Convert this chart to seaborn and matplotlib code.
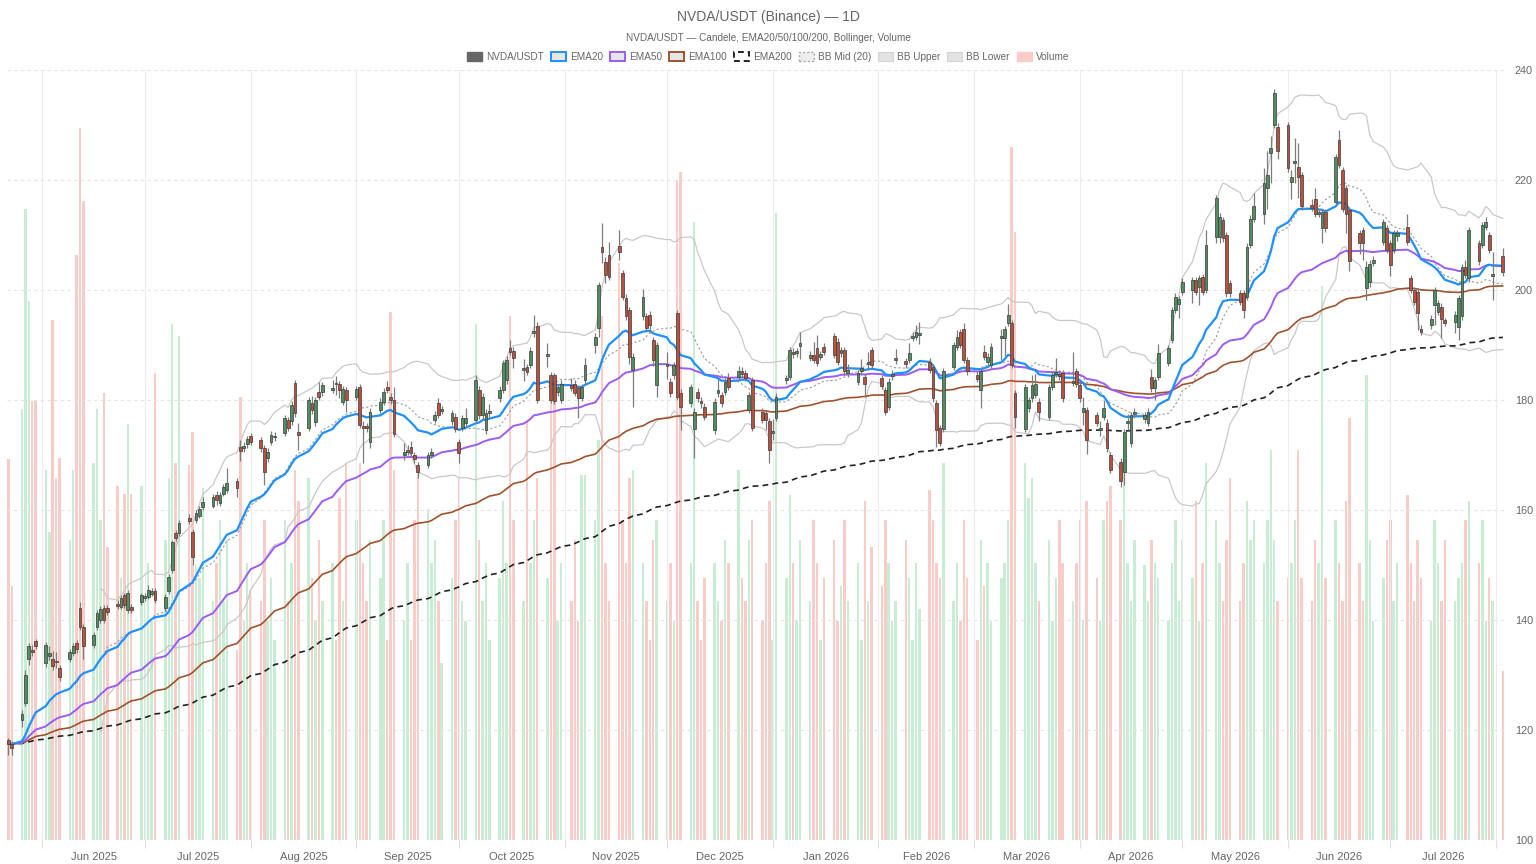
import numpy as np
import pandas as pd
import seaborn as sns
import matplotlib
matplotlib.use("Agg")
import matplotlib.pyplot as plt
import matplotlib.dates as mdates
from matplotlib.patches import Patch
from matplotlib.ticker import FixedLocator, FixedFormatter, NullFormatter

# daily bars, weekdays only (Thu 22 May 2025 .. Mon 3 Aug 2026)
first_day = "2025-05-22"
last_day = "2026-08-03"

# one line per week
opens = [
    118.1, 117.4,
    121.8, 124.9, 133.0, 134.5, 136.1,
    132.2, 133.4, 132.9, 132.6, 131.3,
    133.0, 134.0, 135.9, 142.2, 138.7,
    135.5, 138.7, 140.0, 142.2, 142.2,
    143.0, 142.4, 144.5, 141.8, 142.3,
    143.3, 144.0, 144.2, 144.8, 145.3,
    142.2, 145.3, 149.1, 155.9, 155.8,
    158.6, 156.0, 158.2, 159.0, 160.5,
    160.8, 162.8, 161.2, 163.0, 163.6,
    165.2, 171.5, 171.2, 172.0, 173.5,
    172.7, 171.3, 169.4, 172.4, 173.2,
    174.0, 176.4, 176.1, 183.1, 174.2,
    174.9, 179.5, 176.0, 181.5, 181.5,
    181.8, 183.1, 182.9, 179.7, 181.8,
    180.6, 182.4, 175.3, 175.2, 172.4,
    178.2, 179.7, 182.3, 180.6, 180.0,
    170.0, 170.6, 171.5, 170.0, 168.2,
    168.2, 170.0, 176.4, 179.5, 178.0,
    176.1, 177.0, 172.4, 174.9, 175.8,
    176.4, 181.8, 177.3, 174.5, 177.7,
    180.3, 181.8, 183.6, 189.4, 189.0,
    185.5, 186.0, 186.4, 192.1, 193.5,
    188.0, 184.5, 184.5, 181.5, 180.0,
    182.7, 183.0, 182.2, 180.4, 183.6,
    190.0, 193.1, 207.9, 205.1, 206.4,
    208.0, 203.1, 198.5, 196.4, 185.5,
    195.2, 195.2, 195.5, 190.9, 182.7,
    186.2, 183.3, 184.5, 195.8, 181.3,
    179.4, 174.8, 181.5, 179.8, 178.8,
    174.5, 181.2, 180.9, 181.5, 184.0,
    184.2, 185.3, 184.9, 178.2, 183.6,
    177.9, 177.6, 176.1, 174.0, 176.7,
    183.6, 184.2, 188.8, 188.5, 189.8,
    187.7, 188.2, 189.4, 187.8, 189.7,
    191.6, 190.6, 188.5, 189.1, 185.0,
    183.3, 185.2, 184.2, 186.6, 189.1,
    184.0, 181.8, 178.8, 184.3, 187.2,
    187.1, 187.3, 191.3, 191.5, 191.8,
    187.0, 186.0, 179.4, 174.9, 174.8,
    186.0, 189.7, 192.4, 193.0, 187.3,
    184.6, 181.8, 188.8, 187.0, 186.4,
    191.3, 191.2, 194.0, 194.0, 181.2,
    174.8, 178.5, 180.3, 180.9, 179.7,
    177.0, 182.4, 184.7, 184.8, 184.9,
    183.1, 185.2, 182.7, 177.9, 178.2,
    177.3, 174.6, 177.0, 175.9, 170.0,
    168.8, 167.0, 175.8, 172.1, 177.5,
    176.6, 175.8, 184.2, 182.1, 184.2,
    186.7, 190.9, 196.4, 197.5, 199.7,
    200.0, 201.8, 200.5, 202.4, 200.0,
    209.7, 209.7, 212.7, 210.0, 201.2,
    199.4, 199.4, 198.8, 208.2, 213.0,
    213.9, 218.5, 224.9, 230.0, 229.7,
    230.0, 219.7, 223.1, 222.3, 220.9,
    215.5, 216.5, 213.8, 211.2, 214.2,
    216.0, 227.3, 221.8, 218.5, 214.5,
    210.3, 210.9, 200.3, 201.5, 205.0,
    208.8, 211.2, 208.5, 207.3, 209.8,
    211.5, 202.1, 200.0, 199.7, 193.0,
    193.6, 197.3, 196.0, 197.0, 194.5,
    194.2, 193.3, 195.2, 204.2, 202.1,
    208.5, 208.2, 211.5, 210.0, 202.5,
    206.1,
]

highs = [
    118.6, 118.0,
    123.6, 131.0, 135.8, 135.5, 136.6,
    136.0, 135.2, 134.3, 134.1, 131.8,
    134.8, 135.9, 136.4, 143.3, 139.2,
    137.8, 141.8, 142.5, 142.8, 142.7,
    143.6, 144.5, 145.0, 145.4, 142.9,
    145.0, 145.0, 146.3, 145.8, 145.8,
    144.7, 148.3, 154.6, 156.4, 158.2,
    159.3, 156.5, 160.0, 160.8, 162.3,
    163.0, 163.5, 163.3, 164.8, 167.6,
    165.8, 172.8, 172.4, 173.5, 174.0,
    173.3, 171.8, 171.2, 174.4, 174.2,
    177.3, 177.0, 179.8, 183.7, 175.8,
    180.6, 180.8, 180.6, 183.2, 183.3,
    183.6, 184.4, 183.4, 182.6, 182.3,
    182.6, 182.9, 176.2, 175.8, 178.6,
    180.3, 182.1, 183.5, 181.2, 182.4,
    172.2, 171.8, 172.5, 170.6, 168.7,
    170.6, 171.3, 178.0, 180.4, 179.0,
    178.2, 177.6, 173.0, 177.3, 178.5,
    184.5, 182.5, 181.2, 178.3, 179.2,
    182.5, 187.3, 188.0, 190.9, 189.6,
    187.5, 186.6, 189.6, 195.5, 194.2,
    190.4, 185.1, 185.0, 183.0, 183.6,
    184.0, 183.6, 182.8, 183.0, 187.6,
    192.2, 201.5, 212.2, 206.0, 208.8,
    211.0, 203.7, 199.2, 197.0, 188.5,
    200.2, 195.8, 196.2, 191.5, 190.6,
    188.7, 184.0, 187.0, 196.4, 182.0,
    183.0, 178.6, 182.2, 180.5, 179.4,
    180.3, 183.8, 181.5, 184.0, 185.0,
    186.2, 186.0, 185.5, 181.5, 184.2,
    178.5, 178.2, 176.7, 176.5, 181.2,
    184.6, 189.7, 189.4, 189.5, 192.4,
    189.0, 190.5, 191.9, 189.0, 190.3,
    192.2, 191.2, 189.7, 189.7, 186.5,
    185.5, 187.4, 184.8, 188.8, 189.7,
    184.5, 182.4, 184.0, 185.5, 189.2,
    187.7, 190.4, 192.4, 193.6, 194.2,
    187.6, 186.6, 180.0, 175.5, 185.8,
    190.6, 192.8, 193.0, 194.0, 187.9,
    185.2, 185.8, 190.0, 188.5, 190.3,
    193.0, 193.5, 197.5, 194.6, 181.8,
    183.0, 180.6, 184.5, 184.8, 180.3,
    183.0, 185.2, 187.6, 185.4, 185.5,
    188.8, 185.8, 183.3, 180.5, 178.8,
    177.9, 176.2, 180.0, 176.5, 170.6,
    169.4, 174.8, 177.5, 177.9, 178.5,
    177.9, 178.5, 185.6, 184.2, 190.2,
    190.0, 197.0, 199.5, 199.0, 202.1,
    202.4, 202.4, 202.8, 203.0, 210.9,
    217.3, 214.0, 213.3, 210.6, 201.8,
    200.0, 200.0, 208.5, 213.6, 217.6,
    222.2, 225.2, 228.0, 236.6, 230.3,
    230.6, 221.8, 227.6, 226.7, 221.5,
    216.5, 218.5, 214.8, 214.8, 214.8,
    224.8, 229.1, 222.4, 219.1, 215.1,
    211.0, 211.5, 205.2, 205.4, 206.1,
    213.0, 211.8, 209.1, 210.9, 211.0,
    213.9, 202.7, 200.6, 200.3, 193.6,
    195.4, 200.6, 198.2, 197.6, 195.0,
    196.1, 199.1, 204.8, 205.5, 211.5,
    209.1, 212.4, 213.3, 210.6, 207.0,
    207.6,
]

lows = [
    115.5, 115.4,
    120.5, 124.4, 131.8, 133.4, 134.8,
    131.5, 132.8, 131.0, 131.2, 129.0,
    132.4, 133.5, 134.0, 138.2, 133.0,
    135.0, 138.2, 139.5, 139.5, 141.0,
    142.0, 142.0, 142.2, 141.3, 141.2,
    142.8, 143.5, 143.8, 144.3, 143.1,
    141.7, 144.8, 148.6, 154.4, 155.3,
    157.5, 150.0, 157.7, 158.5, 160.0,
    160.3, 161.0, 160.7, 162.5, 163.1,
    162.3, 169.0, 170.5, 171.3, 171.8,
    170.6, 164.5, 168.8, 171.8, 172.5,
    173.4, 174.3, 175.5, 177.0, 171.0,
    174.3, 177.5, 175.2, 180.0, 180.8,
    181.2, 181.0, 180.4, 179.1, 177.9,
    180.0, 175.0, 168.5, 174.2, 171.3,
    177.6, 179.1, 181.2, 179.3, 173.3,
    169.1, 170.0, 169.8, 168.6, 165.8,
    167.6, 169.5, 175.8, 176.8, 177.4,
    175.5, 174.2, 168.5, 174.3, 175.2,
    175.8, 176.6, 176.5, 173.9, 177.0,
    179.7, 181.2, 183.0, 188.1, 185.8,
    183.5, 184.5, 185.8, 191.5, 179.4,
    186.0, 179.4, 179.2, 180.8, 179.4,
    181.6, 180.7, 176.7, 179.8, 183.0,
    188.5, 191.5, 204.9, 201.3, 201.8,
    205.5, 198.2, 194.5, 186.5, 178.8,
    194.6, 192.5, 192.2, 186.2, 180.6,
    183.8, 180.6, 183.9, 180.0, 174.5,
    178.8, 169.5, 179.7, 178.6, 176.4,
    173.9, 180.6, 178.8, 180.9, 181.8,
    183.6, 184.2, 183.4, 177.6, 174.3,
    175.8, 174.5, 168.5, 172.8, 176.1,
    183.0, 183.6, 187.7, 187.9, 187.5,
    187.1, 186.7, 186.1, 187.2, 188.2,
    187.6, 186.4, 187.9, 184.6, 184.1,
    182.7, 184.6, 180.5, 185.5, 185.8,
    182.0, 177.3, 178.2, 183.7, 186.6,
    185.9, 186.7, 190.7, 190.9, 190.2,
    184.9, 179.7, 171.5, 171.6, 174.2,
    185.4, 189.1, 189.4, 186.7, 184.6,
    183.2, 178.5, 187.3, 186.4, 185.8,
    187.3, 188.0, 193.4, 185.8, 174.9,
    174.2, 177.9, 179.7, 180.3, 176.1,
    176.4, 181.8, 184.1, 183.7, 179.7,
    182.5, 182.4, 179.7, 175.5, 170.2,
    175.2, 173.5, 176.4, 170.6, 166.7,
    164.2, 164.5, 174.5, 171.5, 176.8,
    175.8, 175.2, 181.5, 180.0, 183.6,
    186.1, 190.3, 195.8, 195.0, 199.1,
    197.7, 199.1, 197.3, 199.1, 199.4,
    208.5, 208.5, 208.8, 198.8, 198.8,
    197.3, 194.9, 198.2, 207.6, 212.4,
    212.0, 214.8, 219.5, 229.4, 223.8,
    221.5, 216.5, 219.4, 216.7, 214.6,
    214.3, 213.3, 213.2, 208.5, 210.6,
    215.4, 222.1, 214.2, 210.4, 203.5,
    206.5, 205.5, 198.2, 200.5, 204.4,
    208.2, 206.7, 202.5, 206.7, 209.0,
    208.2, 199.4, 197.3, 192.8, 191.8,
    193.0, 193.6, 195.4, 191.2, 193.4,
    192.2, 190.9, 194.6, 202.1, 201.5,
    204.6, 207.6, 210.9, 206.7, 198.2,
    202.5,
]

closes = [
    117.5, 116.8,
    122.9, 130.0, 135.2, 134.2, 135.2,
    135.5, 134.0, 131.6, 132.3, 129.6,
    134.2, 135.3, 134.7, 138.8, 135.2,
    137.3, 141.3, 142.0, 140.0, 141.5,
    142.5, 144.0, 142.7, 144.9, 141.8,
    144.5, 144.3, 145.5, 145.2, 143.6,
    144.2, 147.8, 154.1, 154.9, 157.6,
    158.0, 151.5, 159.4, 160.2, 161.5,
    162.3, 161.8, 162.7, 164.2, 164.9,
    164.0, 170.8, 171.7, 172.9, 172.4,
    171.2, 167.0, 170.6, 173.6, 173.5,
    176.7, 175.0, 179.1, 177.7, 173.7,
    180.0, 178.2, 180.0, 180.6, 182.7,
    182.1, 182.9, 181.8, 182.0, 180.0,
    182.0, 175.5, 174.9, 174.9, 177.9,
    179.7, 181.5, 181.8, 180.0, 173.9,
    170.6, 170.9, 170.3, 169.2, 167.0,
    170.0, 170.6, 177.3, 177.3, 178.3,
    177.6, 174.8, 170.3, 176.7, 176.7,
    183.6, 177.3, 180.5, 177.6, 178.0,
    181.8, 186.7, 187.3, 188.7, 187.6,
    185.8, 185.1, 189.0, 192.6, 180.0,
    188.4, 180.0, 179.8, 182.3, 183.0,
    182.2, 181.3, 180.4, 182.4, 186.4,
    191.5, 200.9, 207.0, 202.7, 202.4,
    207.0, 198.8, 195.2, 187.9, 187.9,
    198.8, 193.1, 193.6, 187.3, 190.0,
    186.6, 181.2, 186.4, 180.6, 178.8,
    182.4, 177.9, 180.3, 179.4, 177.0,
    179.7, 181.8, 179.4, 183.3, 182.4,
    185.2, 184.8, 184.0, 180.9, 174.9,
    176.4, 176.4, 170.9, 174.4, 180.6,
    184.0, 189.1, 188.3, 188.9, 190.4,
    188.2, 187.3, 186.7, 188.3, 188.8,
    188.2, 187.0, 189.1, 185.2, 185.4,
    184.9, 185.8, 183.0, 187.0, 186.4,
    182.6, 177.9, 183.3, 184.7, 187.6,
    186.5, 188.5, 191.7, 192.4, 192.1,
    185.5, 180.3, 174.5, 172.2, 185.2,
    190.0, 191.5, 190.0, 187.3, 185.2,
    183.8, 185.2, 187.9, 187.9, 189.7,
    191.7, 192.9, 195.5, 186.4, 177.0,
    182.4, 180.0, 182.7, 183.0, 177.9,
    182.4, 184.5, 185.1, 184.3, 180.3,
    183.5, 183.0, 180.3, 178.5, 172.7,
    175.8, 175.0, 178.5, 171.2, 167.3,
    165.2, 174.2, 176.1, 177.3, 177.8,
    177.2, 177.9, 182.1, 183.6, 188.5,
    189.4, 196.4, 198.8, 198.4, 201.5,
    201.8, 199.7, 202.2, 199.7, 208.2,
    216.7, 213.3, 209.4, 199.4, 199.4,
    197.9, 196.4, 207.9, 213.0, 215.2,
    219.4, 220.9, 225.8, 235.9, 225.2,
    222.1, 220.6, 223.5, 220.6, 215.2,
    215.0, 213.9, 214.1, 214.2, 211.2,
    224.2, 222.7, 214.8, 213.9, 205.2,
    208.5, 208.5, 204.2, 204.8, 205.4,
    212.4, 207.3, 204.5, 210.3, 210.3,
    208.8, 200.0, 197.9, 195.8, 192.4,
    194.8, 200.0, 197.6, 194.8, 194.0,
    195.5, 198.5, 204.2, 202.7, 210.9,
    205.2, 211.8, 212.4, 207.3, 202.9,
    203.3,
]

# volume, millions
volumes = [
    49.5, 33.0,
    56.0, 82.0, 70.0, 57.0, 57.0,
    48.0, 40.0, 67.5, 47.0, 49.6,
    39.0, 48.0, 76.0, 92.5, 83.0,
    49.0, 56.0, 41.5, 58.0, 38.0,
    46.0, 34.0, 45.0, 54.0, 45.0,
    46.0, 31.0, 36.0, 28.5, 60.6,
    39.0, 47.0, 67.0, 49.0, 65.5,
    48.7, 53.0, 35.7, 34.0, 45.7,
    31.0, 36.0, 41.5, 31.0, 39.0,
    24.7, 57.5, 28.5, 36.0, 32.5,
    31.0, 41.5, 28.5, 34.0, 26.0,
    41.5, 31.0, 36.0, 48.0, 44.0,
    47.0, 34.0, 28.5, 39.0, 31.0,
    36.0, 26.0, 44.4, 31.0, 49.0,
    41.5, 49.0, 36.0, 31.0, 39.0,
    34.0, 41.5, 26.0, 68.6, 48.0,
    28.5, 36.0, 26.0, 41.5, 48.0,
    43.0, 36.0, 39.0, 31.0, 23.0,
    34.0, 41.5, 47.0, 31.0, 28.5,
    67.0, 39.0, 31.0, 36.0, 26.0,
    34.0, 44.0, 36.0, 68.0, 41.5,
    31.0, 54.5, 36.0, 41.5, 47.0,
    34.0, 59.4, 59.4, 28.5, 36.0,
    31.0, 39.0, 28.5, 47.4, 47.4,
    41.5, 52.0, 68.0, 36.0, 31.0,
    75.0, 41.5, 36.0, 47.0, 48.0,
    36.0, 31.0, 26.0, 39.0, 41.5,
    31.0, 36.0, 28.5, 85.7, 86.8,
    36.0, 80.3, 31.0, 26.0, 34.0,
    36.0, 31.0, 28.5, 39.0, 36.0,
    48.0, 34.0, 31.0, 39.0, 41.5,
    28.5, 36.0, 44.0, 26.0, 81.4,
    34.0, 44.8, 36.0, 28.5, 39.0,
    31.0, 41.5, 36.0, 26.0, 34.0,
    39.0, 28.5, 33.0, 41.5, 31.0,
    36.0, 26.0, 44.0, 31.0, 38.0,
    33.0, 41.5, 36.0, 28.5, 31.0,
    39.0, 34.0, 26.0, 36.0, 30.0,
    45.5, 41.5, 36.0, 34.0, 49.0,
    31.0, 36.0, 28.5, 41.5, 34.0,
    26.0, 39.0, 33.0, 36.0, 28.5,
    34.0, 36.0, 41.5, 90.0, 79.0,
    49.0, 44.4, 47.0, 36.0, 31.0,
    39.0, 28.5, 34.0, 41.5, 36.0,
    31.0, 36.0, 41.5, 28.5, 44.0,
    34.0, 28.5, 41.5, 44.0, 46.0,
    41.5, 53.0, 36.0, 31.0, 39.0,
    35.7, 31.0, 39.0, 36.0, 34.0,
    28.5, 36.0, 41.5, 31.0, 39.0,
    34.0, 44.0, 28.5, 36.0, 49.0,
    41.5, 36.0, 31.0, 39.0, 47.0,
    31.0, 36.0, 44.0, 39.0, 41.5,
    36.0, 41.5, 50.6, 39.0, 31.0,
    34.0, 36.0, 41.5, 50.6, 34.0,
    31.0, 39.0, 36.0, 72.0, 34.0,
    41.5, 36.0, 31.0, 44.0, 54.8,
    36.0, 31.0, 60.4, 39.0, 28.5,
    34.0, 39.0, 41.5, 31.0, 36.0,
    44.8, 36.0, 31.0, 39.0, 34.0,
    28.5, 41.5, 36.0, 31.0, 39.0,
    31.0, 34.0, 36.0, 41.5, 44.0,
    36.0, 41.5, 28.5, 34.0, 31.0,
    22.0,
]

month_labels = ["Jun 2025", "Jul 2025", "Aug 2025", "Sep 2025", "Oct 2025",
                "Nov 2025", "Dec 2025", "Jan 2026", "Feb 2026", "Mar 2026",
                "Apr 2026", "May 2026", "Jun 2026", "Jul 2026"]
price_ticks = [100, 120, 140, 160, 180, 200, 220, 240]

dates = pd.bdate_range(first_day, last_day)
df = pd.DataFrame({"date": dates, "open": opens, "high": highs, "low": lows,
                   "close": closes, "volume": volumes})
df["x"] = mdates.date2num(df["date"])
for n in (20, 50, 100, 200):
    df[f"ema{n}"] = df["close"].ewm(span=n, adjust=False).mean()
mid = df["close"].rolling(20).mean()
sd = df["close"].rolling(20).std(ddof=0)
df["bb_mid"] = mid
df["bb_up"] = mid + 2 * sd
df["bb_lo"] = mid - 2 * sd
up = (df["close"] >= df["open"]).to_numpy()

C_UP, C_DN = "#4f8f5f", "#bd503c"
C_VUP, C_VDN = "#c9ecd4", "#f9ccc7"
C_EMA = {20: "#1e90ff", 50: "#9d5cf5", 100: "#a0522d", 200: "#222222"}
TXT = "#666666"

sns.set_theme(style="white")
plt.rcParams["font.family"] = ["Liberation Sans", "DejaVu Sans"]

fig = plt.figure(figsize=(15.36, 8.64), dpi=100)
ax = fig.add_axes([7 / 1536, 24 / 864, 1501 / 1536, 770 / 864])
vax = ax.twinx()

# volume behind everything
vax.bar(df["x"], df["volume"], width=0.72, color=np.where(up, C_VUP, C_VDN), linewidth=0)
vax.set_ylim(0, 100)
vax.set_yticks([])
for s in vax.spines.values():
    s.set_visible(False)
ax.set_zorder(vax.get_zorder() + 1)
ax.patch.set_visible(False)

# bollinger
sns.lineplot(data=df, x="x", y="bb_up", ax=ax, color="#c9c9c9", linewidth=0.9,
             estimator=None, sort=False, legend=False)
sns.lineplot(data=df, x="x", y="bb_lo", ax=ax, color="#c9c9c9", linewidth=0.9,
             estimator=None, sort=False, legend=False)
sns.lineplot(data=df, x="x", y="bb_mid", ax=ax, color="#9a9a9a", linewidth=0.8,
             estimator=None, sort=False, legend=False)
ax.lines[-1].set_dashes([2, 2])

# EMAs
widths = {20: 1.6, 50: 1.4, 100: 1.2, 200: 1.2}
for n in (200, 100, 50, 20):
    sns.lineplot(data=df, x="x", y=f"ema{n}", ax=ax, color=C_EMA[n], linewidth=widths[n],
                 estimator=None, sort=False, legend=False)
    if n == 200:
        ax.lines[-1].set_dashes([3.5, 2.5])

# candles
body_lo = df[["open", "close"]].min(axis=1)
body_h = (df["close"] - df["open"]).abs().clip(lower=0.25)
ax.vlines(df["x"], df["low"], df["high"], color="#7d7d7d", linewidth=0.9, zorder=4)
ax.bar(df["x"], body_h, bottom=body_lo, width=0.82, color=np.where(up, C_UP, C_DN),
       edgecolor="#3a3a3a", linewidth=0.5, zorder=5)

# axes
ax.set_xlim(mdates.date2num(pd.Timestamp(first_day)) - 0.4,
            mdates.date2num(pd.Timestamp(last_day)) + 1.5)
ax.set_ylim(100, 240)
ax.set_xlabel("")
ax.set_ylabel("")
for s in ax.spines.values():
    s.set_visible(False)

month_starts = pd.date_range("2025-06-01", "2026-08-01", freq="MS")
ms = mdates.date2num(month_starts)
ax.xaxis.set_major_locator(FixedLocator(ms))
ax.xaxis.set_major_formatter(NullFormatter())
ax.xaxis.set_minor_locator(FixedLocator((ms[:-1] + ms[1:]) / 2))
ax.xaxis.set_minor_formatter(FixedFormatter(month_labels))
ax.tick_params(axis="x", which="both", bottom=True)
ax.tick_params(axis="x", which="major", length=6, width=0.8, color="#dddddd")
ax.tick_params(axis="x", which="minor", length=0, pad=9, labelsize=8, labelcolor=TXT)

ax.yaxis.tick_right()
ax.set_yticks(price_ticks)
ax.tick_params(axis="y", length=0, pad=5, labelsize=7.8, labelcolor=TXT)

ax.grid(axis="x", which="major", color="#ececec", linewidth=0.8)
ax.grid(axis="y", color="#e4e4e4", linewidth=0.8, linestyle=(0, (3, 3)))
ax.set_axisbelow(True)

# titles + legend
fig.text(0.5, 1 - 17 / 864, "NVDA/USDT (Binance) — 1D", ha="center", va="center",
         fontsize=10, color=TXT)
fig.text(0.5, 1 - 38 / 864, "NVDA/USDT — Candele, EMA20/50/100/200, Bollinger, Volume",
         ha="center", va="center", fontsize=7.2, color=TXT)

handles = [
    Patch(facecolor="#666666", edgecolor="#666666", label="NVDA/USDT"),
    Patch(facecolor="#e6e6e6", edgecolor=C_EMA[20], linewidth=1.4, label="EMA20"),
    Patch(facecolor="#e6e6e6", edgecolor=C_EMA[50], linewidth=1.4, label="EMA50"),
    Patch(facecolor="#e6e6e6", edgecolor=C_EMA[100], linewidth=1.4, label="EMA100"),
    Patch(facecolor="#ffffff", edgecolor=C_EMA[200], linewidth=1.4, linestyle=(0, (3, 2)), label="EMA200"),
    Patch(facecolor="#eeeeee", edgecolor="#aaaaaa", linewidth=1.0, linestyle=(0, (1.5, 1.5)), label="BB Mid (20)"),
    Patch(facecolor="#e2e2e2", edgecolor="#d4d4d4", linewidth=0.8, label="BB Upper"),
    Patch(facecolor="#e2e2e2", edgecolor="#d4d4d4", linewidth=0.8, label="BB Lower"),
    Patch(facecolor=C_VDN, edgecolor=C_VDN, label="Volume"),
]
fig.legend(handles=handles, loc="center", bbox_to_anchor=(0.5, 1 - 57 / 864), ncol=9,
           frameon=False, fontsize=7.2, handlelength=1.5, handleheight=1.0,
           handletextpad=0.4, columnspacing=0.7, labelcolor=TXT)

fig.savefig("out.png", dpi=100)
